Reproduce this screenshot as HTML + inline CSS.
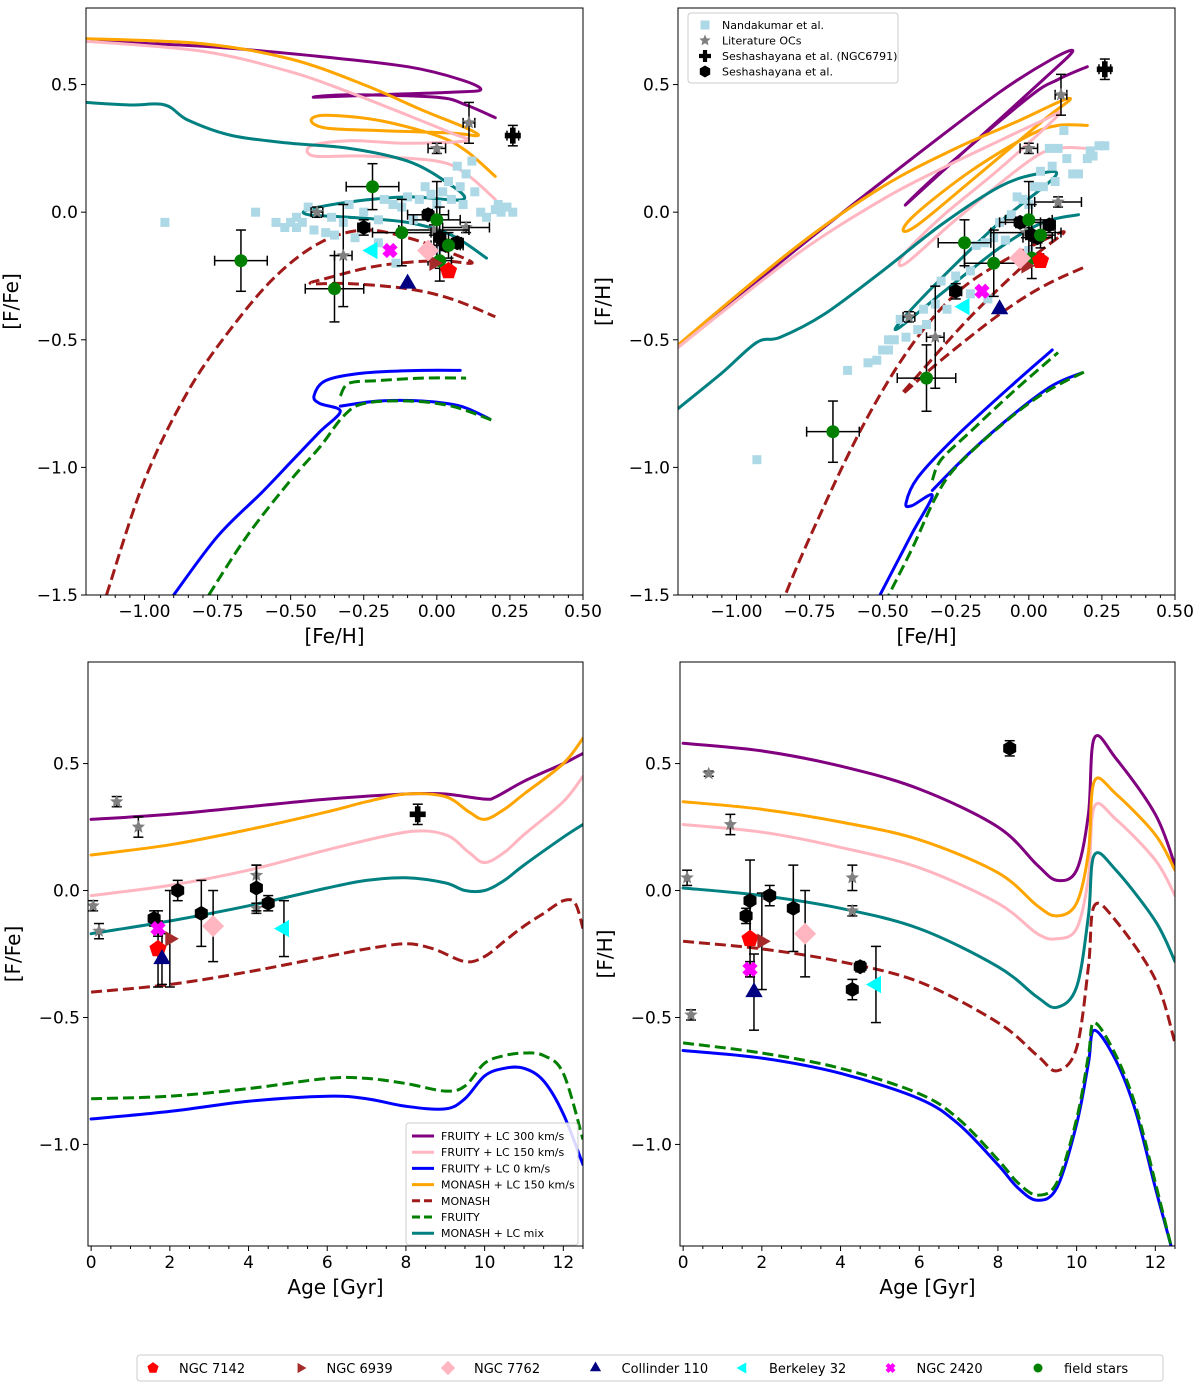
<!DOCTYPE html>
<html><head><meta charset="utf-8"><style>
html,body{margin:0;padding:0;background:#fff;}
svg{display:block;font-family:"DejaVu Sans","Liberation Sans",sans-serif;}
</style></head><body>
<svg id="fig" width="1200" height="1389" viewBox="0 0 1200 1389" xmlns="http://www.w3.org/2000/svg">
<rect x="0" y="0" width="1200" height="1389" fill="#fff"/>
</svg>
<script>
// ---------- data: metallicity panels ([Fe/H], [F/Fe]) ----------
const fruity300 = [[-1.2,0.67],[-0.8,0.65],[-0.4,0.61],[-0.1,0.57],[0.08,0.52],[0.15,0.48],[0.05,0.47],[-0.2,0.46],[-0.42,0.45],[-0.3,0.46],[0,0.45],[0.1,0.42],[0.2,0.37]];
const monash150 = [[-1.2,0.68],[-0.8,0.66],[-0.5,0.6],[-0.25,0.5],[-0.05,0.4],[0.1,0.33],[0.14,0.3],[0.05,0.31],[-0.2,0.32],[-0.38,0.33],[-0.43,0.36],[-0.38,0.38],[-0.2,0.36],[0,0.3],[0.1,0.24],[0.2,0.14]];
const fruity150 = [[-1.2,0.67],[-0.8,0.63],[-0.5,0.55],[-0.3,0.47],[-0.1,0.38],[0.05,0.31],[0.1,0.28],[-0.1,0.27],[-0.3,0.28],[-0.43,0.26],[-0.42,0.22],[-0.25,0.22],[0,0.2],[0.1,0.15],[0.2,0.05]];
const monashMix = [[-1.2,0.43],[-1.05,0.42],[-0.93,0.42],[-0.85,0.36],[-0.7,0.3],[-0.5,0.27],[-0.3,0.25],[-0.1,0.2],[0.03,0.12],[0.09,0.05],[-0.1,0.06],[-0.3,0.04],[-0.44,0.01],[-0.44,-0.01],[-0.3,-0.02],[-0.1,-0.04],[0.05,-0.09],[0.17,-0.18]];
const monash = [[-1.13,-1.5],[-1.0,-1.05],[-0.85,-0.7],[-0.7,-0.45],[-0.55,-0.25],[-0.4,-0.12],[-0.25,-0.07],[-0.1,-0.1],[0.05,-0.16],[0.12,-0.2],[0.0,-0.19],[-0.2,-0.21],[-0.38,-0.26],[-0.43,-0.28],[-0.3,-0.28],[-0.1,-0.3],[0.05,-0.34],[0.2,-0.41]];
const fruity0 = [[-0.9,-1.5],[-0.75,-1.27],[-0.6,-1.1],[-0.5,-0.98],[-0.4,-0.86],[-0.33,-0.78],[-0.4,-0.75],[-0.42,-0.72],[-0.38,-0.66],[-0.25,-0.63],[-0.05,-0.62],[0.08,-0.62]];
const fruity0b = [[-0.33,-0.76],[-0.2,-0.74],[-0.05,-0.74],[0.08,-0.76],[0.18,-0.81]];
const fruity = [[-0.78,-1.5],[-0.65,-1.27],[-0.5,-1.05],[-0.4,-0.92],[-0.32,-0.8],[-0.25,-0.75],[-0.1,-0.74],[0.05,-0.76],[0.2,-0.82]];
const fruityb = [[-0.33,-0.72],[-0.3,-0.67],[-0.2,-0.66],[-0.05,-0.65],[0.1,-0.65]];
const nanda = [[-0.93,-0.04],[-0.62,0.0],[-0.55,-0.04],[-0.52,-0.06],[-0.5,-0.04],[-0.48,-0.02],[-0.48,-0.06],[-0.46,-0.04],[-0.44,0.02],[-0.42,-0.07],[-0.38,-0.08],[-0.36,-0.02],[-0.35,-0.09],[-0.32,-0.04],[-0.3,0.03],[-0.28,-0.1],[-0.25,0.0],[-0.2,-0.03],[-0.18,0.05],[-0.15,0.03],[-0.12,0.02],[-0.1,0.06],[-0.08,-0.03],[-0.06,0.05],[-0.04,0.1],[-0.02,0.07],[0.0,0.03],[0.02,0.08],[0.04,0.12],[0.05,0.05],[0.07,0.18],[0.08,0.1],[0.09,0.03],[0.1,0.15],[0.12,0.2],[0.13,0.08],[0.15,0.0],[0.17,-0.02],[0.2,0.01],[0.21,0.03],[0.22,0.0],[0.24,0.02],[0.26,0.0],[-0.14,-0.2],[-0.2,-0.12],[0.0,-0.15]];
const litOCs = [[0.11,0.35,0.02,0.08],[0.0,0.25,0.03,0.02],[-0.41,0.0,0.02,0.02],[-0.32,-0.17,0.03,0.2],[0.1,-0.06,0.08,0.02],[-0.01,-0.07,0.12,0.02]];
const seshaM = [[-0.25,-0.06,0.02,0.03],[-0.03,-0.01,0.07,0.02],[0.01,-0.1,0.02,0.12],[0.03,-0.13,0.05,0.02],[0.07,-0.12,0.02,0.02]];
const ngc6791 = [[0.26,0.3,0.02,0.04]];
const fieldStars = [[-0.67,-0.19,0.09,0.12],[-0.22,0.1,0.09,0.09],[-0.35,-0.3,0.1,0.13],[-0.12,-0.08,0.1,0.13],[0.0,-0.03,0.08,0.15],[0.04,-0.13,0.05,0.05],[0.01,-0.19,0.04,0.08]];
const clustersMet = {n7142:[0.04,-0.23],n6939:[-0.01,-0.2],n7762:[-0.03,-0.15],c110:[-0.1,-0.28],b32:[-0.22,-0.15],n2420:[-0.16,-0.15]};

// ---------- data: age panels ----------
const ageL = {
 p300:[[0,0.28],[2,0.3],[4,0.33],[6,0.36],[8,0.38],[9,0.38],[10,0.36],[10.3,0.37],[11,0.43],[12,0.5],[12.5,0.54]],
 o150:[[0,0.14],[2,0.18],[4,0.24],[6,0.31],[7,0.35],[8,0.38],[9,0.37],[9.6,0.31],[10,0.28],[10.5,0.32],[11,0.38],[12,0.5],[12.5,0.6]],
 p150:[[0,-0.02],[2,0.02],[4,0.08],[6,0.16],[8,0.23],[9,0.22],[9.6,0.15],[10,0.11],[10.5,0.15],[11,0.22],[12,0.35],[12.5,0.45]],
 mix:[[0,-0.17],[2,-0.12],[4,-0.06],[6,0.01],[7,0.04],[8,0.05],[9,0.03],[9.5,0.0],[10,0.0],[10.5,0.04],[11,0.1],[12,0.21],[12.5,0.26]],
 mon:[[0,-0.4],[2,-0.37],[4,-0.32],[6,-0.26],[7,-0.23],[8,-0.21],[8.7,-0.23],[9.5,-0.28],[10,-0.26],[10.5,-0.2],[11,-0.14],[11.5,-0.09],[12,-0.04],[12.3,-0.05],[12.5,-0.15]],
 fru:[[0,-0.82],[2,-0.81],[4,-0.78],[6,-0.74],[7,-0.74],[8,-0.76],[9,-0.79],[9.5,-0.77],[10,-0.68],[10.5,-0.65],[11,-0.64],[11.5,-0.65],[12,-0.72],[12.5,-0.98]],
 f0:[[0,-0.9],[2,-0.87],[4,-0.83],[6,-0.81],[7,-0.82],[8,-0.85],[9,-0.86],[9.5,-0.82],[10,-0.73],[10.5,-0.7],[11,-0.7],[11.5,-0.75],[12,-0.88],[12.5,-1.08]]
};
const ageR = {
 p300:[[0,0.58],[2,0.55],[4,0.49],[6,0.4],[8,0.25],[9,0.1],[9.5,0.04],[10,0.08],[10.3,0.3],[10.45,0.6],[11,0.52],[12,0.3],[12.5,0.1]],
 o150:[[0,0.35],[2,0.32],[4,0.27],[6,0.2],[8,0.07],[9,-0.06],[9.5,-0.1],[10,-0.05],[10.3,0.15],[10.45,0.43],[11,0.38],[12,0.22],[12.5,0.08]],
 p150:[[0,0.26],[2,0.23],[4,0.17],[6,0.09],[8,-0.05],[9,-0.17],[9.5,-0.19],[10,-0.15],[10.3,0.05],[10.45,0.33],[11,0.28],[12,0.12],[12.5,-0.02]],
 mix:[[0,0.01],[2,-0.02],[4,-0.07],[6,-0.15],[8,-0.3],[9,-0.42],[9.5,-0.46],[10,-0.38],[10.3,-0.1],[10.45,0.14],[11,0.08],[12,-0.12],[12.5,-0.28]],
 mon:[[0,-0.2],[2,-0.23],[4,-0.28],[6,-0.36],[8,-0.52],[9,-0.65],[9.5,-0.71],[10,-0.62],[10.3,-0.3],[10.45,-0.06],[11,-0.12],[12,-0.35],[12.5,-0.6]],
 fru:[[0,-0.6],[2,-0.64],[4,-0.7],[6,-0.8],[7,-0.9],[8,-1.06],[8.5,-1.15],[9,-1.2],[9.5,-1.15],[10,-0.9],[10.3,-0.65],[10.45,-0.52],[11,-0.65],[11.5,-0.85],[12,-1.15],[12.4,-1.4]],
 f0:[[0,-0.63],[2,-0.66],[4,-0.72],[6,-0.82],[7,-0.92],[8,-1.08],[8.5,-1.17],[9,-1.22],[9.5,-1.17],[10,-0.92],[10.3,-0.68],[10.45,-0.55],[11,-0.67],[11.5,-0.87],[12,-1.17],[12.4,-1.4]]
};
const ageLitL = [[0.05,-0.06,0.02],[0.2,-0.16,0.03],[0.65,0.35,0.02],[1.2,0.25,0.04],[4.2,0.06,0.04],[4.2,-0.07,0.02]];
const ageLitR = [[0.1,0.05,0.03],[0.2,-0.49,0.02],[0.65,0.46,0.01],[1.2,0.26,0.04],[4.3,0.05,0.05],[4.3,-0.08,0.02]];
const ageBlackL = [[1.6,-0.11,0.03],[2.2,0.0,0.04],[2.8,-0.09,0.13],[4.2,0.01,0.09],[4.5,-0.05,0.03]];
const ageBlackR = [[1.6,-0.1,0.03],[1.7,-0.04,0.16],[2.2,-0.02,0.04],[2.8,-0.07,0.17],[4.3,-0.39,0.04],[4.5,-0.3,0.02]];
const ageHexR = [[8.3,0.56,0.03]];
const agePlusL = [[8.3,0.3,0.04]];
const ageClL = {n7142:[1.7,-0.23,0.15],n6939:[2.0,-0.19,0.19],n7762:[3.1,-0.14,0.14],c110:[1.8,-0.27,0.1],b32:[4.9,-0.15,0.11],n2420:[1.7,-0.15,0.03]};
const ageClR = {n7142:[1.7,-0.19,0.15],n6939:[2.0,-0.2,0.19],n7762:[3.1,-0.17,0.17],c110:[1.8,-0.4,0.15],b32:[4.9,-0.37,0.15],n2420:[1.7,-0.31,0.03]};

const NS = 'http://www.w3.org/2000/svg';
const svg = document.getElementById('fig');
function mk(tag, attrs, parent){ const e=document.createElementNS(NS,tag); for(const k in attrs) e.setAttribute(k,attrs[k]); (parent||svg).appendChild(e); return e; }

function makePanel(name, px0, px1, py0, py1, xd, yd){
  const g = mk('g',{});
  
  
  const sx = v => px0 + (v - xd[0]) / (xd[1]-xd[0]) * (px1-px0);
  const sy = v => py1 - (v - yd[0]) / (yd[1]-yd[0]) * (py1-py0);
  const cid = 'clip-'+name;
  const cp = mk('clipPath',{id:cid}, g);
  mk('rect',{x:px0,y:py0,width:px1-px0,height:py1-py0}, cp);
  const plot = mk('g',{'clip-path':'url(#'+cid+')'}, g);
  return {g, plot, sx, sy, px0, px1, py0, py1};
}
function frame(P, xticks, xminor, xfmt, yticks, yfmt, xlabel, ylabel){
  const g = P.g;
  mk('rect',{x:P.px0,y:P.py0,width:P.px1-P.px0,height:P.py1-P.py0,fill:'none',stroke:'#000','stroke-width':1}, g);
  xticks.forEach(v=>{
    const x=P.sx(v);
    mk('line',{x1:x,x2:x,y1:P.py1,y2:P.py1+5,stroke:'#000'}, g);
    const t=mk('text',{x:x,y:P.py1+22,'text-anchor':'middle','font-size':17}, g); t.textContent=xfmt(v);
    
    
  });
  xminor.forEach(v=>{ const x=P.sx(v); mk('line',{x1:x,x2:x,y1:P.py1,y2:P.py1+3,stroke:'#000'}, g); });
  yticks.forEach(v=>{
    const y=P.sy(v);
    mk('line',{x1:P.px0-5,x2:P.px0,y1:y,y2:y,stroke:'#000'}, g);
    const t=mk('text',{x:P.px0-8,y:y+6,'text-anchor':'end','font-size':17}, g); t.textContent=yfmt(v);
    
    
  });
  const xl=mk('text',{x:(P.px0+P.px1)/2,y:P.py1+48,'text-anchor':'middle','font-size':20}, g); xl.textContent=xlabel;
  
  
  const cy=(P.py0+P.py1)/2, cx=P.px0-68;
  const yl=mk('text',{x:cx,y:cy,'text-anchor':'middle','font-size':20,transform:'rotate(-90 '+cx+' '+cy+')'}, g); yl.textContent=ylabel;
  
  
}
function smoothPath(pts){
  if(pts.length<3) return pts.map((p,i)=>(i?'L':'M')+p[0].toFixed(1)+','+p[1].toFixed(1)).join(' ');
  let d='M'+pts[0][0].toFixed(1)+','+pts[0][1].toFixed(1);
  for(let i=0;i<pts.length-1;i++){
    const p0=pts[i-1]||pts[i], p1=pts[i], p2=pts[i+1], p3=pts[i+2]||p2;
    const t=1/6;
    const c1=[p1[0]+(p2[0]-p0[0])*t, p1[1]+(p2[1]-p0[1])*t];
    const c2=[p2[0]-(p3[0]-p1[0])*t, p2[1]-(p3[1]-p1[1])*t];
    d+=' C'+c1[0].toFixed(1)+','+c1[1].toFixed(1)+' '+c2[0].toFixed(1)+','+c2[1].toFixed(1)+' '+p2[0].toFixed(1)+','+p2[1].toFixed(1);
  }
  return d;
}
function line(P, pts, color, dashed, name){
  const d = smoothPath(pts.map(p=>[P.sx(p[0]),P.sy(p[1])]));
  const e = mk('path',{d:d,fill:'none',stroke:color,'stroke-width':3,'stroke-linejoin':'round','stroke-linecap':dashed?'butt':'round'}, P.plot);
  if(dashed) e.setAttribute('stroke-dasharray','11,5');
  
  
}
function errbar(P, x, y, xe, ye){
  const c='#000', w=1.5;
  if(xe){ const a=P.sx(x-xe), b=P.sx(x+xe), yy=P.sy(y);
    mk('line',{x1:a,x2:b,y1:yy,y2:yy,stroke:c,'stroke-width':w}, P.plot);
    mk('line',{x1:a,x2:a,y1:yy-5,y2:yy+5,stroke:c,'stroke-width':w}, P.plot);
    mk('line',{x1:b,x2:b,y1:yy-5,y2:yy+5,stroke:c,'stroke-width':w}, P.plot); }
  if(ye){ const a=P.sy(y-ye), b=P.sy(y+ye), xx=P.sx(x);
    mk('line',{x1:xx,x2:xx,y1:a,y2:b,stroke:c,'stroke-width':w}, P.plot);
    mk('line',{x1:xx-5,x2:xx+5,y1:a,y2:a,stroke:c,'stroke-width':w}, P.plot);
    mk('line',{x1:xx-5,x2:xx+5,y1:b,y2:b,stroke:c,'stroke-width':w}, P.plot); }
}
function poly(n, r, rot){ const a=[]; for(let i=0;i<n;i++){const t=rot+i*2*Math.PI/n; a.push((r*Math.cos(t)).toFixed(1)+','+(r*Math.sin(t)).toFixed(1));} return a.join(' '); }
function star(r){ const a=[]; for(let i=0;i<10;i++){const rr=i%2?r*0.45:r; const t=-Math.PI/2+i*Math.PI/5; a.push((rr*Math.cos(t)).toFixed(1)+','+(rr*Math.sin(t)).toFixed(1));} return a.join(' '); }
function marker(parent, x, y, type, color, s){
  const g = mk('g',{transform:'translate('+x.toFixed(1)+','+y.toFixed(1)+')'}, parent);
  switch(type){
    case 'pent': mk('polygon',{points:poly(5,s,-Math.PI/2),fill:color}, g); break;
    case 'tri-r': mk('polygon',{points:poly(3,s,0),fill:color}, g); break;
    case 'tri-l': mk('polygon',{points:poly(3,s,Math.PI),fill:color}, g); break;
    case 'tri-u': mk('polygon',{points:poly(3,s,-Math.PI/2),fill:color}, g); break;
    case 'diam': mk('polygon',{points:poly(4,s,-Math.PI/2),fill:color}, g); break;
    case 'x': mk('path',{d:'M'+(-s*0.6)+','+(-s*0.6)+'L'+(s*0.6)+','+(s*0.6)+'M'+(s*0.6)+','+(-s*0.6)+'L'+(-s*0.6)+','+(s*0.6),stroke:color,'stroke-width':s*0.7,'stroke-linecap':'butt'}, g); break;
    case 'circ': mk('circle',{r:s,fill:color}, g); break;
    case 'hex': mk('polygon',{points:poly(6,s,-Math.PI/2),fill:color}, g); break;
    case 'star': mk('polygon',{points:star(s),fill:color}, g); break;
    case 'sq': mk('rect',{x:-s,y:-s,width:2*s,height:2*s,fill:color}, g); break;
    case 'plus': mk('path',{d:'M'+(-s)+',0L'+s+',0M0,'+(-s)+'L0,'+s,stroke:color,'stroke-width':s*0.7}, g); break;
  }
  return g;
}
const CL = {n7142:['pent','#ff0000',9],n6939:['tri-r','#a52a2a',9],n7762:['diam','#ffb6c1',11],c110:['tri-u','#000080',10],b32:['tri-l','#00ffff',10],n2420:['x','#ff00ff',9]};
const MODELS = [['p300','#800080',false,'fruity-300-line'],['p150','#ffb6c1',false,'fruity-150-line'],['f0','#0000ff',false,'fruity-0-line'],['o150','#ffa500',false,'monash-150-line'],['mon','#a01a1a',true,'monash-line'],['fru','#007f00',true,'fruity-line'],['mix','#008080',false,'monash-mix-line']];

function metPanel(name, px0, py0, toF){
  const P = makePanel(name, px0, px0+497, 8, 595, [-1.2,0.5], [-1.5,0.8]);
  const T = pts => pts.map(p=>[p[0], toF(p[0],p[1])]);
  line(P,T(fruity300),'#800080',false,'fruity-300-line');
  line(P,T(monash150),'#ffa500',false,'monash-150-line');
  line(P,T(fruity150),'#ffb6c1',false,'fruity-150-line');
  line(P,T(monashMix),'#008080',false,'monash-mix-line');
  line(P,T(monash),'#a01a1a',true,'monash-line');
  line(P,T(fruity0),'#0000ff',false,'fruity-0-line');
  line(P,T(fruity0b),'#0000ff',false,'fruity-0-line');
  line(P,T(fruity),'#007f00',true,'fruity-line');
  line(P,T(fruityb),'#007f00',true,'fruity-line');
  nanda.forEach(p=>{ const m=marker(P.plot,P.sx(p[0]),P.sy(toF(p[0],p[1])),'sq','#add8e6',4.5);
    
     });
  litOCs.forEach(p=>{ errbar(P,p[0],toF(p[0],p[1]),p[2],p[3]); const m=marker(P.plot,P.sx(p[0]),P.sy(toF(p[0],p[1])),'star','#808080',7);
    
     });
  fieldStars.forEach(p=>{ errbar(P,p[0],toF(p[0],p[1]),p[2],p[3]); });
  seshaM.forEach(p=>{ errbar(P,p[0],toF(p[0],p[1]),p[2],p[3]); const m=marker(P.plot,P.sx(p[0]),P.sy(toF(p[0],p[1])),'hex','#000',7.5);
    
     });
  ngc6791.forEach(p=>{ errbar(P,p[0],toF(p[0],p[1]),p[2],p[3]); const m=marker(P.plot,P.sx(p[0]),P.sy(toF(p[0],p[1])),'plus','#000',8);
    
     });
  fieldStars.forEach(p=>{ const m=marker(P.plot,P.sx(p[0]),P.sy(toF(p[0],p[1])),'circ','#007f00',6.5);
    
     });
  for(const k in clustersMet){ const p=clustersMet[k], c=CL[k];
    const m=marker(P.plot,P.sx(p[0]),P.sy(toF(p[0],p[1])),c[0],c[1],c[2]);
    
     }
  return P;
}
const fmt2 = v => (v<0?'\u2212':'')+Math.abs(v).toFixed(2);
const fmt1 = v => (v<0?'\u2212':'')+Math.abs(v).toFixed(1);
const xt=[-1.0,-0.75,-0.5,-0.25,0,0.25,0.5], xm=[-1.15,-1.1,-1.05,-0.95,-0.9,-0.85,-0.8,-0.7,-0.65,-0.6,-0.55,-0.45,-0.4,-0.35,-0.3,-0.2,-0.15,-0.1,-0.05,0.05,0.1,0.15,0.2,0.3,0.35,0.4,0.45];
const yt=[-1.5,-1.0,-0.5,0,0.5];

const TL = metPanel('panel-ffe-vs-feh', 86, 8, (x,y)=>y);
frame(TL, xt, xm, fmt2, yt, fmt1, '[Fe/H]', '[F/Fe]');
const TR = metPanel('panel-fh-vs-feh', 678, 8, (x,y)=>y+x);
frame(TR, xt, xm, fmt2, yt, fmt1, '[Fe/H]', '[F/H]');

function agePanel(name, px0, M, lit, black, hex, plus, cls){
  const P = makePanel(name, px0, px0+495, 662, 1246, [-0.08,12.5], [-1.4,0.9]);
  MODELS.forEach(m=>line(P, M[m[0]], m[1], m[2], m[3]));
  lit.forEach(p=>{ errbar(P,p[0],p[1],0,p[2]); const m=marker(P.plot,P.sx(p[0]),P.sy(p[1]),'star','#808080',7);
    
     });
  for(const k in cls){ const p=cls[k]; errbar(P,p[0],p[1],0,p[2]); }
  black.forEach(p=>{ errbar(P,p[0],p[1],0,p[2]); const m=marker(P.plot,P.sx(p[0]),P.sy(p[1]),'hex','#000',7.5);
    
     });
  hex.forEach(p=>{ errbar(P,p[0],p[1],0,p[2]); const m=marker(P.plot,P.sx(p[0]),P.sy(p[1]),'hex','#000',7.5);
    
     });
  plus.forEach(p=>{ errbar(P,p[0],p[1],0,p[2]); const m=marker(P.plot,P.sx(p[0]),P.sy(p[1]),'plus','#000',8);
    
     });
  for(const k in cls){ const p=cls[k], c=CL[k];
    const m=marker(P.plot,P.sx(p[0]),P.sy(p[1]),c[0],c[1],c[2]);
    
     }
  frame(P,[0,2,4,6,8,10,12],[0.5,1,1.5,2.5,3,3.5,4.5,5,5.5,6.5,7,7.5,8.5,9,9.5,10.5,11,11.5,12.5],v=>String(v),[-1.0,-0.5,0,0.5],fmt1,'Age [Gyr]', name==='panel-ffe-vs-age'?'[F/Fe]':'[F/H]');
  return P;
}
const BL = agePanel('panel-ffe-vs-age', 88, ageL, ageLitL, ageBlackL, [], agePlusL, ageClL);
const BR = agePanel('panel-fh-vs-age', 680, ageR, ageLitR, ageBlackR, ageHexR, [], ageClR);

// ---------- legends ----------
function legendBox(name, x, y, w, h){
  const g = mk('g',{});
  
  
  mk('rect',{x:x,y:y,width:w,height:h,rx:3,fill:'#fff','fill-opacity':0.85,stroke:'#ccc'}, g);
  return g;
}
const obsNames = ['Nandakumar et al.','Literature OCs','Seshashayana et al. (NGC6791)','Seshashayana et al.'];
const obsMarks = [['sq','#add8e6',4.5],['star','#808080',6],['plus','#000',6],['hex','#000',6]];
const LG1 = legendBox('observations-legend', 688, 13, 210, 70);
obsNames.forEach((n,i)=>{
  const yy = 25+i*15.5;
  marker(LG1, 705, yy, obsMarks[i][0], obsMarks[i][1], obsMarks[i][2]);
  const t=mk('text',{x:722,y:yy+4,'font-size':11}, LG1); t.textContent=n;
  
  
});
const modelNames = ['FRUITY + LC 300 km/s','FRUITY + LC 150 km/s','FRUITY + LC 0 km/s','MONASH + LC 150 km/s','MONASH','FRUITY','MONASH + LC mix'];
const LG2 = legendBox('models-legend', 406, 1123, 172, 122);
MODELS.forEach((m,i)=>{
  const yy = 1136+i*16.2;
  const l=mk('line',{x1:412,x2:434,y1:yy,y2:yy,stroke:m[1],'stroke-width':3}, LG2);
  if(m[2]) l.setAttribute('stroke-dasharray','8,4');
  const t=mk('text',{x:441,y:yy+4,'font-size':11}, LG2); t.textContent=modelNames[i];
  
  
});
const clNames = ['NGC 7142','NGC 6939','NGC 7762','Collinder 110','Berkeley 32','NGC 2420','field stars'];
const clKeys = ['n7142','n6939','n7762','c110','b32','n2420','field'];
const LG3 = legendBox('clusters-legend', 137, 1355, 1026, 26);
clKeys.forEach((k,i)=>{
  const x0 = 137 + i*147.5;
  const c = k==='field' ? ['circ','#007f00',4.5] : [CL[k][0],CL[k][1],CL[k][2]*0.65];
  marker(LG3, x0+16, 1368, c[0], c[1], c[2]);
  const t=mk('text',{x:x0+42,y:1373,'font-size':13}, LG3); t.textContent=clNames[i];
  
  
});
</script>
</body></html>
